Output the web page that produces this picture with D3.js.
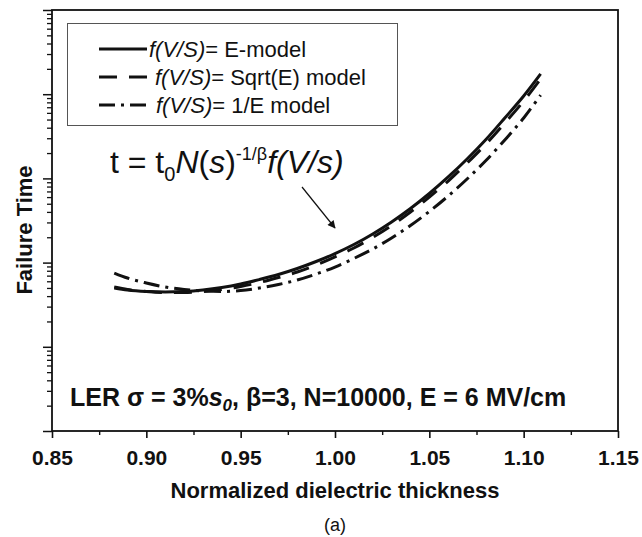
<!DOCTYPE html>
<html>
<head>
<meta charset="utf-8">
<script src="https://cdn.jsdelivr.net/npm/d3@7"></script>
<style>
  body { margin: 0; background: #fff; }
  svg text { font-family: "Liberation Sans", Arial, Helvetica, sans-serif; fill: #111; }
</style>
</head>
<body>
<svg id="chart" width="642" height="537"></svg>
<script>
// Normalized dielectric thickness (s / s0)
const thickness = [0.883, 0.89, 0.90, 0.91, 0.92, 0.93, 0.94, 0.95, 0.96, 0.97, 0.98, 0.99,
                   1.00, 1.01, 1.02, 1.03, 1.04, 1.05, 1.06, 1.07, 1.08, 1.09, 1.10, 1.109];
// Failure time (arbitrary units) for each field-acceleration model
const eModel     = [50, 47.3, 45.4, 44.8, 45.4, 47.3, 50.6, 55.7, 63, 72.2, 85.1, 103,
                    128, 164, 219, 304, 439, 662, 1040, 1700, 2900, 5220, 9520, 17400];
const sqrtEModel = [51.3, 47.9, 45.4, 44.2, 44.2, 45.4, 47.9, 52, 58, 66.5, 77.3, 93.6,
                    117, 149, 199, 276, 399, 601, 931, 1520, 2560, 4550, 8300, 15200];
const invEModel  = [75.2, 65.6, 57.2, 51.3, 47.9, 46, 45.4, 46.6, 49.9, 55, 62.1, 73.2,
                    88.6, 112, 145, 196, 276, 405, 618, 984, 1630, 2860, 5220, 9780];
const seriesNames = ["E-model", "Sqrt(E) model", "1/E model"];
const xTickValues = [0.85, 0.90, 0.95, 1.00, 1.05, 1.10, 1.15];
const xMinorValues = [0.875, 0.925, 0.975, 1.025, 1.075, 1.125];
const yDomain = [1, 1e5];

const svg = d3.select("#chart");
const plot = { left: 52, top: 10, right: 618, bottom: 431 };

const x = d3.scaleLinear().domain([0.85, 1.15]).range([plot.left, plot.right]);
const y = d3.scaleLog().domain(yDomain).range([plot.bottom, plot.top]);

const ink = "#111";

// x axis: major ticks with labels, minor ticks without
const xAxis = svg.append("g")
  .attr("transform", `translate(0,${plot.bottom})`)
  .call(d3.axisBottom(x).tickValues(xTickValues).tickSize(7).tickPadding(12)
        .tickFormat(d3.format(".2f")));
xAxis.select(".domain").remove();
xAxis.selectAll("line").attr("stroke", ink).attr("stroke-width", 1.6);
xAxis.selectAll("text").attr("font-size", 21).attr("font-weight", "bold")
  .attr("font-family", "Liberation Sans, Arial, sans-serif").attr("fill", ink);

const xMinor = svg.append("g")
  .attr("transform", `translate(0,${plot.bottom})`)
  .call(d3.axisBottom(x).tickValues(xMinorValues).tickSize(4).tickFormat(""));
xMinor.select(".domain").remove();
xMinor.selectAll("line").attr("stroke", ink).attr("stroke-width", 1.4);

// y axis: logarithmic, decade ticks long, intermediate ticks short, no labels
const decades = d3.range(Math.log10(yDomain[0]), Math.log10(yDomain[1]) + 1).map(p => Math.pow(10, p));
const minorY = [];
decades.slice(0, -1).forEach(d => { for (let k = 2; k <= 9; k++) minorY.push(d * k); });

const yMajor = svg.append("g")
  .attr("transform", `translate(${plot.left},0)`)
  .call(d3.axisLeft(y).tickValues(decades).tickSize(9).tickFormat(""));
yMajor.select(".domain").remove();
yMajor.selectAll("line").attr("stroke", ink).attr("stroke-width", 1.5);

const yMinor = svg.append("g")
  .attr("transform", `translate(${plot.left},0)`)
  .call(d3.axisLeft(y).tickValues(minorY).tickSize(5).tickFormat(""));
yMinor.select(".domain").remove();
yMinor.selectAll("line").attr("stroke", ink).attr("stroke-width", 1.3);

// plot frame
svg.append("rect")
  .attr("x", plot.left).attr("y", plot.top)
  .attr("width", plot.right - plot.left).attr("height", plot.bottom - plot.top)
  .attr("fill", "none").attr("stroke", ink).attr("stroke-width", 1.8);

// curves
const styles = [
  { data: eModel, dash: null },
  { data: sqrtEModel, dash: "18,12" },
  { data: invEModel, dash: "16,6,3,6" }
];
const line = d3.line()
  .x(d => x(d[0]))
  .y(d => y(d[1]))
  .curve(d3.curveMonotoneX);

styles.forEach(s => {
  svg.append("path")
    .datum(thickness.map((t, i) => [t, s.data[i]]))
    .attr("d", line)
    .attr("fill", "none")
    .attr("stroke", ink)
    .attr("stroke-width", 3)
    .attr("stroke-dasharray", s.dash);
});

// legend
const legend = svg.append("g");
legend.append("rect")
  .attr("x", 67.5).attr("y", 23.5).attr("width", 330).attr("height", 102)
  .attr("fill", "#fff").attr("stroke", "#555").attr("stroke-width", 1);
const rowY = [49, 77, 105];
const textX = [149, 155, 156];
styles.forEach((s, i) => {
  legend.append("line")
    .attr("x1", 99).attr("x2", 147).attr("y1", rowY[i]).attr("y2", rowY[i])
    .attr("stroke", ink).attr("stroke-width", 3).attr("stroke-dasharray", s.dash);
  const t = legend.append("text")
    .attr("x", textX[i]).attr("y", rowY[i] + 8).attr("font-size", 22);
  t.append("tspan").attr("font-style", "italic").text("f(V/S)");
  t.append("tspan").text("= " + seriesNames[i]);
});

// model formula with arrow
const formula = svg.append("text").attr("x", 110).attr("y", 173).attr("font-size", 32);
formula.append("tspan").text("t = t");
formula.append("tspan").attr("font-size", 20).attr("dy", 8).text("0");
formula.append("tspan").attr("dy", -8).attr("font-style", "italic").text("N");
formula.append("tspan").text("(");
formula.append("tspan").attr("font-style", "italic").text("s");
formula.append("tspan").text(")");
formula.append("tspan").attr("font-size", 18).attr("dy", -13).text("-1/β");
formula.append("tspan").attr("dy", 13).attr("font-style", "italic").text("f(V/s)");

svg.append("defs").append("marker")
  .attr("id", "arrowhead").attr("viewBox", "0 0 10 10")
  .attr("refX", 9).attr("refY", 5)
  .attr("markerWidth", 11).attr("markerHeight", 8)
  .attr("markerUnits", "userSpaceOnUse")
  .attr("orient", "auto")
  .append("path").attr("d", "M0,0 L10,5 L0,10 Z").attr("fill", ink);
svg.append("line")
  .attr("x1", 302).attr("y1", 187).attr("x2", 335).attr("y2", 228)
  .attr("stroke", ink).attr("stroke-width", 1.2)
  .attr("marker-end", "url(#arrowhead)");

// simulation conditions
const cond = svg.append("text").attr("x", 70).attr("y", 406)
  .attr("font-size", 25).attr("font-weight", "bold");
cond.append("tspan").text("LER σ = 3%");
cond.append("tspan").attr("font-style", "italic").text("s");
cond.append("tspan").attr("font-style", "italic").attr("font-size", 17).attr("dy", 5).text("0");
cond.append("tspan").attr("dy", -5).text(", β=3, N=10000, E = 6 MV/cm");

// axis titles
svg.append("text")
  .attr("transform", `translate(32,230) rotate(-90)`)
  .attr("text-anchor", "middle").attr("font-size", 22).attr("font-weight", "bold")
  .text("Failure Time");
svg.append("text")
  .attr("x", (plot.left + plot.right) / 2).attr("y", 498)
  .attr("text-anchor", "middle").attr("font-size", 22).attr("font-weight", "bold")
  .text("Normalized dielectric thickness");
svg.append("text")
  .attr("x", (plot.left + plot.right) / 2).attr("y", 531)
  .attr("text-anchor", "middle").attr("font-size", 18)
  .text("(a)");
</script>
</body>
</html>
